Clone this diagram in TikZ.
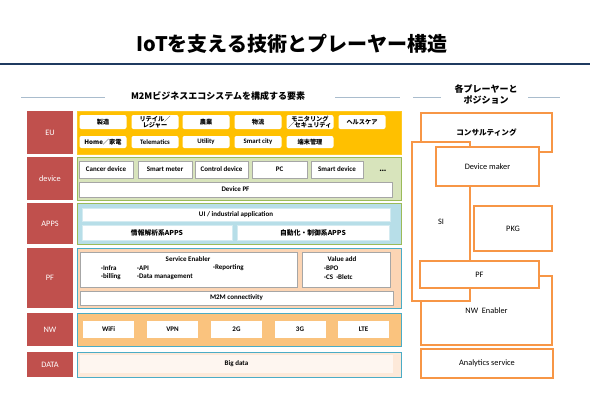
\documentclass[tikz,border=0pt]{standalone}
\usepackage{fontspec}
\setmainfont{Carlito}
\newfontfamily\jp{Noto Sans CJK JP}
\definecolor{redc}{HTML}{C0504D}
\definecolor{euc}{HTML}{FFC000}
\definecolor{devf}{HTML}{D8E4BC}
\definecolor{devd}{HTML}{9BBB59}
\definecolor{appf}{HTML}{B7DEE8}
\definecolor{pff}{HTML}{FCD5B4}
\definecolor{nwf}{HTML}{FAC37E}
\definecolor{dataf}{HTML}{FDE9D9}
\definecolor{teal}{HTML}{4BACC6}
\definecolor{orgc}{HTML}{F79646}
\definecolor{navy}{HTML}{1F3A60}
\definecolor{hdrl}{HTML}{A9BCCD}
\newcommand{\fsz}[1]{\fontsize{#1}{#1}\selectfont}
\tikzset{
  bx/.style={rectangle, inner sep=0pt, align=center},
  lab/.style={bx, fill=redc, text=white, minimum width=46pt, font=\fsz{8.3}},
  cont/.style={bx, line width=1pt},
  ebox/.style={bx, fill=white, rounded corners=2pt, minimum width=47pt, font=\jp\bfseries\fsz{6.2}},
  dbox/.style={bx, fill=white, draw=black!35, line width=0.6pt, minimum height=17pt, font=\bfseries\fsz{7}},
  wbox/.style={bx, fill=white, font=\bfseries\fsz{7}},
  tx/.style={inner sep=0pt, font=\bfseries\fsz{7}},
  pbox/.style={bx, fill=white, draw=orgc, line width=1.2pt, font=\fsz{8.3}},
  hl/.style={draw=hdrl, line width=0.8pt}
}
\begin{document}
\begin{tikzpicture}[x=1pt,y=-1pt]
\useasboundingbox (0,0) rectangle (590,408);
% title
\node[inner sep=0pt, font=\jp\bfseries\fsz{20}] (title) at (292,44) {IoTを支える技術とプレーヤー構造};
\coordinate (tl) at (0,64); \coordinate (tr) at (590,64);
\draw[navy, line width=2pt] (tl) -- (tr);
% headers
\node[inner sep=0pt, font=\jp\bfseries\fsz{9}] (h1) at (218,96) {M2Mビジネスエコシステムを構成する要素};
\node[inner sep=0pt, align=center, font=\jp\bfseries\fsz{9}] (h2) at (486,94) {各プレーヤーと\\[2pt]ポジション};
\coordinate (l1a) at (21,97); \coordinate (l1b) at (105,97);
\coordinate (l2a) at (335,97); \coordinate (l2b) at (400,97);
\coordinate (l3a) at (413,97); \coordinate (l3b) at (441,97);
\coordinate (l4a) at (528,97); \coordinate (l4b) at (560,97);
\draw[hl] (l1a) -- (l1b); \draw[hl] (l2a) -- (l2b);
\draw[hl] (l3a) -- (l3b); \draw[hl] (l4a) -- (l4b);
% red labels
\node[lab, minimum height=43pt] (lEU) at (50,132.5) {EU};
\node[lab, minimum height=43pt] (lDev) at (50,178.5) {device};
\node[lab, minimum height=41pt] (lApp) at (50,223.5) {APPS};
\node[lab, minimum height=60pt] (lPF) at (50,278) {PF};
\node[lab, minimum height=33pt] (lNW) at (50,329.5) {NW};
\node[lab, minimum height=25pt] (lData) at (50,364.5) {DATA};
% containers
\node[cont, fill=euc, draw=euc!85!white, minimum width=324pt, minimum height=43pt] (cEU) at (239,132.5) {};
\node[cont, fill=devf, draw=devd, minimum width=324pt, minimum height=43pt] (cDev) at (239,178.5) {};
\node[cont, fill=appf, draw=devd, minimum width=324pt, minimum height=41pt] (cApp) at (239,223.5) {};
\node[cont, fill=pff, draw=teal, minimum width=324pt, minimum height=60pt] (cPF) at (239,278) {};
\node[cont, fill=nwf, draw=teal, minimum width=324pt, minimum height=33pt] (cNW) at (239,329.5) {};
\node[cont, fill=dataf, draw=teal, minimum width=324pt, minimum height=25pt] (cData) at (239,364.5) {};
% EU boxes
\node[ebox, minimum height=14pt] (e1) at (103,122) {製造};
\node[ebox, minimum height=14pt] (e2) at (155,122) {リテイル／\\レジャー};
\node[ebox, minimum height=14pt] (e3) at (206,122) {農業};
\node[ebox, minimum height=14pt] (e4) at (258,122) {物流};
\node[ebox, minimum height=14pt] (e5) at (310,122) {モニタリング\\／セキュリティ};
\node[ebox, minimum height=14pt] (e6) at (362,122) {ヘルスケア};
\node[ebox, minimum height=12pt] (e7) at (103,142) {Home／家電};
\node[ebox, minimum height=12pt, font=\bfseries\fsz{6.8}] (e8) at (155,142) {Telematics};
\node[ebox, minimum height=12pt, font=\bfseries\fsz{6.8}] (e9) at (206,142) {Utility};
\node[ebox, minimum height=12pt, font=\bfseries\fsz{6.8}] (e10) at (258,142) {Smart city};
\node[ebox, minimum height=12pt] (e11) at (310,142) {端末管理};
% device boxes
\node[dbox, minimum width=54pt] (d1) at (106,169.5) {Cancer device};
\node[dbox, minimum width=54pt] (d2) at (165,169.5) {Smart meter};
\node[dbox, minimum width=53pt] (d3) at (221.5,169.5) {Control device};
\node[dbox, minimum width=55pt] (d4) at (279.5,169.5) {PC};
\node[dbox, minimum width=52pt] (d5) at (337,169.5) {Smart device};
\node[tx, font=\bfseries\fsz{10}] (dots) at (383,171) {…};
\node[dbox, minimum width=313pt, minimum height=15pt] (dpf) at (235.5,189.5) {Device PF};
% APPS
\node[wbox, draw=appf!60!white, minimum width=308pt, minimum height=13pt] (a1) at (236,214.5) {UI / industrial application};
\node[wbox, draw=appf!60!white, minimum width=150pt, minimum height=15pt, font=\jp\bfseries\fsz{6.8}] (a2) at (157,232.5) {情報解析系APPS};
\node[wbox, draw=appf!60!white, minimum width=152pt, minimum height=15pt, font=\jp\bfseries\fsz{6.8}] (a3) at (313,232.5) {自動化・制御系APPS};
% PF
\node[dbox, minimum width=217pt, minimum height=35pt] (se) at (188.5,269.5) {};
\node[dbox, minimum width=88pt, minimum height=35pt] (va) at (346,269.5) {};
\node[dbox, minimum width=313pt, minimum height=14pt] (m2m) at (236.5,298) {M2M connectivity};
\node[tx] (seT) at (188,259) {Service Enabler};
\node[tx, anchor=west] (s1) at (101,268) {·Infra};
\node[tx, anchor=west] (s2) at (101,277) {·billing};
\node[tx, anchor=west] (s3) at (137,268) {·API};
\node[tx, anchor=west] (s4) at (137,277) {·Data management};
\node[tx, anchor=west] (s5) at (213,268) {·Reporting};
\node[tx] (vaT) at (342,259) {Value add};
\node[tx, anchor=west] (v1) at (324,268) {·BPO};
\node[tx, anchor=west] (v2) at (324,277) {·CS\ \ ·Bletc};
% NW
\node[wbox, minimum width=51pt, minimum height=17pt] (n1) at (108.5,329.5) {WiFi};
\node[wbox, minimum width=51pt, minimum height=17pt] (n2) at (172.5,329.5) {VPN};
\node[wbox, minimum width=51pt, minimum height=17pt] (n3) at (236.5,329.5) {2G};
\node[wbox, minimum width=51pt, minimum height=17pt] (n4) at (300,329.5) {3G};
\node[wbox, minimum width=51pt, minimum height=17pt] (n5) at (363.5,329.5) {LTE};
% DATA
\node[wbox, fill=white!60!dataf, minimum width=313pt, minimum height=18pt] (bd) at (236.5,364) {Big data};
% right column
\node[pbox, minimum width=131pt, minimum height=39pt, font=\jp\bfseries\fsz{7.6}] (cons) at (486.5,132.5) {コンサルティング};
\node[pbox, minimum width=131pt, minimum height=69pt] (nwe) at (486.5,310.5) {NW\ \ Enabler};
\node[pbox, minimum width=58pt, minimum height=159pt] (si) at (441,221.5) {SI};
\node[pbox, minimum width=103pt, minimum height=39pt] (dm) at (487.5,166.5) {Device maker};
\node[pbox, minimum width=78pt, minimum height=45pt] (pkg) at (513,228.5) {PKG};
\node[pbox, minimum width=119pt, minimum height=27pt] (rpf) at (479.5,274.5) {PF};
\node[pbox, minimum width=132pt, minimum height=29pt] (ana) at (487,363.5) {Analytics service};
\end{tikzpicture}
\end{document}
